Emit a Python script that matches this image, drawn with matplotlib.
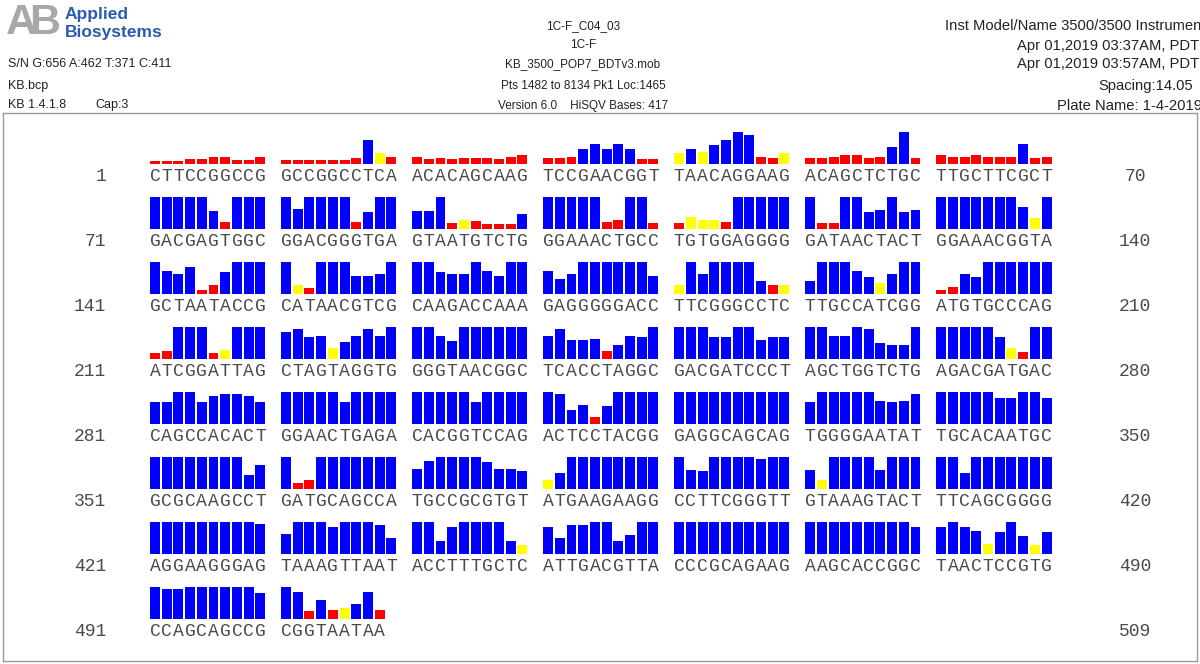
import matplotlib
matplotlib.use("Agg")
import matplotlib.pyplot as plt
from matplotlib.lines import Line2D

W, H = 1200, 664

# base numbers shown at the left and right end of each line
row_starts = [1, 71, 141, 211, 281, 351, 421, 491]
row_ends = [70, 140, 210, 280, 350, 420, 490, 509]

# called bases, 10 per block
bases = [
    "CTTCCGGCCG GCCGGCCTCA ACACAGCAAG TCCGAACGGT TAACAGGAAG ACAGCTCTGC TTGCTTCGCT",
    "GACGAGTGGC GGACGGGTGA GTAATGTCTG GGAAACTGCC TGTGGAGGGG GATAACTACT GGAAACGGTA",
    "GCTAATACCG CATAACGTCG CAAGACCAAA GAGGGGGACC TTCGGGCCTC TTGCCATCGG ATGTGCCCAG",
    "ATCGGATTAG CTAGTAGGTG GGGTAACGGC TCACCTAGGC GACGATCCCT AGCTGGTCTG AGACGATGAC",
    "CAGCCACACT GGAACTGAGA CACGGTCCAG ACTCCTACGG GAGGCAGCAG TGGGGAATAT TGCACAATGC",
    "GCGCAAGCCT GATGCAGCCA TGCCGCGTGT ATGAAGAAGG CCTTCGGGTT GTAAAGTACT TTCAGCGGGG",
    "AGGAAGGGAG TAAAGTTAAT ACCTTTGCTC ATTGACGTTA CCCGCAGAAG AAGCACCGGC TAACTCCGTG",
    "CCAGCAGCCG CGGTAATAA",
]

# quality values per base (bars are capped at QV 50)
qv_1_70 = [5, 5, 5, 8, 8, 11, 11, 6, 6, 11,
           6, 6, 6, 6, 6, 6, 9, 38, 18, 12,
           12, 8, 10, 8, 10, 10, 10, 8, 12, 14,
           9, 10, 12, 23, 31, 23, 31, 23, 8, 8,
           18, 23, 19, 30, 38, 50, 45, 12, 10, 18,
           10, 10, 12, 14, 14, 10, 12, 27, 50, 10,
           14, 12, 12, 14, 12, 11, 11, 31, 9, 12]
qv_71_140 = [50, 50, 50, 50, 50, 28, 12, 50, 50, 50,
             50, 31, 50, 50, 50, 50, 11, 27, 50, 50,
             28, 28, 50, 9, 15, 13, 8, 8, 8, 23,
             50, 50, 50, 50, 50, 12, 14, 50, 50, 9,
             9, 19, 15, 15, 12, 50, 50, 50, 50, 50,
             50, 9, 9, 50, 50, 27, 30, 50, 27, 30,
             50, 50, 50, 50, 50, 50, 50, 34, 17, 50]
qv_141_210 = [50, 36, 31, 42, 7, 14, 34, 50, 50, 50,
              50, 15, 9, 50, 50, 50, 28, 28, 31, 50,
              50, 50, 34, 31, 31, 50, 36, 28, 50, 50,
              36, 23, 31, 50, 50, 50, 50, 50, 50, 28,
              15, 50, 31, 50, 50, 50, 50, 20, 14, 15,
              20, 50, 50, 50, 36, 27, 17, 31, 50, 50,
              6, 12, 31, 27, 50, 50, 50, 50, 50, 50]
qv_211_280 = [9, 13, 50, 50, 50, 9, 15, 50, 50, 50,
              42, 47, 34, 36, 17, 27, 36, 47, 36, 50,
              50, 50, 36, 28, 50, 50, 50, 50, 50, 50,
              36, 47, 30, 30, 31, 13, 22, 36, 34, 50,
              50, 50, 50, 34, 34, 50, 50, 30, 34, 34,
              50, 50, 36, 36, 50, 47, 25, 22, 22, 50,
              50, 50, 50, 50, 50, 34, 17, 12, 50, 50]
qv_281_350 = [34, 34, 50, 50, 34, 44, 47, 47, 44, 34,
              50, 50, 50, 50, 50, 34, 50, 50, 50, 50,
              50, 50, 50, 50, 50, 34, 50, 50, 50, 50,
              50, 47, 22, 30, 12, 28, 50, 50, 50, 50,
              50, 50, 50, 50, 50, 50, 50, 50, 50, 50,
              34, 50, 50, 50, 50, 50, 36, 34, 36, 47,
              50, 50, 50, 50, 50, 40, 40, 50, 50, 40]
qv_351_420 = [50, 50, 50, 50, 50, 50, 50, 50, 22, 37,
              50, 9, 14, 50, 50, 50, 50, 50, 50, 50,
              31, 44, 50, 50, 50, 50, 42, 31, 31, 28,
              15, 25, 50, 50, 50, 50, 50, 50, 50, 50,
              50, 30, 28, 50, 50, 50, 50, 47, 50, 50,
              30, 15, 50, 50, 50, 50, 30, 50, 50, 50,
              50, 50, 25, 50, 50, 50, 50, 50, 50, 50]
qv_421_490 = [50, 50, 50, 50, 50, 50, 50, 50, 50, 47,
              31, 50, 50, 50, 42, 50, 50, 50, 45, 25,
              50, 50, 20, 42, 50, 50, 50, 50, 21, 15,
              42, 25, 45, 45, 50, 50, 20, 30, 50, 50,
              50, 50, 50, 50, 50, 50, 50, 50, 50, 50,
              50, 50, 50, 50, 50, 50, 50, 50, 50, 42,
              42, 50, 42, 36, 16, 34, 50, 28, 15, 34]
qv_491_509 = [50, 47, 47, 50, 50, 50, 50, 50, 50, 40,
              50, 42, 13, 29, 14, 18, 23, 42, 14]

qv_rows = [qv_1_70, qv_71_140, qv_141_210, qv_211_280,
           qv_281_350, qv_351_420, qv_421_490, qv_491_509]

QV_MAX = 50
GROUP_GAP = 1.2      # extra space between blocks of ten, in base widths
PITCH = 11.7         # pixels per base
ROW_STEP = 65        # pixels between lines
X_LO, X_HI = -1, 77.5


def qv_color(q):
    if q < 15:
        return "#ff0000"
    if q < 20:
        return "#ffff00"
    return "#0000ff"


def fx(px):
    return px / W


def fy(py):
    return 1 - py / H


fig = plt.figure(figsize=(W / 100, H / 100), dpi=100)
fig.patch.set_facecolor("white")

txt = dict(family="Liberation Sans", fontsize=9, color="#222222", va="center")
mono = dict(family="Liberation Mono", fontsize=13, color="#4a4a4a", va="center")

# logo
fig.text(fx(6), fy(23), "A", family="Liberation Sans", fontsize=31, fontweight="bold",
         color="#a8a8a8", va="center")
fig.text(fx(29), fy(23), "B", family="Liberation Sans", fontsize=31, fontweight="bold",
         color="#a8a8a8", va="center")
fig.add_artist(Line2D([fx(22), fx(37)], [fy(41), fy(5)], color="white", lw=2.2))
fig.text(fx(65), fy(14), "Applied", family="Liberation Sans", fontsize=12.5,
         fontweight="bold", color="#2a5cae", va="center")
fig.text(fx(65), fy(32), "Biosystems", family="Liberation Sans", fontsize=12.5,
         fontweight="bold", color="#2a5cae", va="center")

# header, left
fig.text(fx(8), fy(64), "S/N G:656 A:462 T:371 C:411", **txt)
fig.text(fx(8), fy(86), "KB.bcp", **txt)
fig.text(fx(8), fy(105), "KB 1.4.1.8", **txt)
fig.text(fx(95), fy(105), "Cap:3", **txt)

# header, centre
ctr = dict(txt, fontsize=8.5)
for y, s in [(26, "1C-F_C04_03"), (45, "1C-F"), (64, "KB_3500_POP7_BDTv3.mob"),
             (86, "Pts 1482 to 8134 Pk1 Loc:1465"), (106, "Version 6.0    HiSQV Bases: 417")]:
    fig.text(fx(583), fy(y), s, ha="center", **ctr)

# header, right (runs past the page edge)
rgt = dict(txt, fontsize=10.6)
for x, y, s in [(945, 26, "Inst Model/Name 3500/3500 Instrument"),
                (1017, 46, "Apr 01,2019 03:37AM, PDT"),
                (1017, 64, "Apr 01,2019 03:57AM, PDT"),
                (1098, 86, "Spacing:14.05"),
                (1057, 106, "Plate Name: 1-4-2019")]:
    fig.text(fx(x), fy(y), s, ha="left", **rgt)

# frame around the base calls
frame = dict(color="#9a9a9a", lw=1)
fig.add_artist(Line2D([fx(3), fx(1197)], [fy(113), fy(113)], **frame))
fig.add_artist(Line2D([fx(3), fx(3)], [fy(113), fy(661)], **frame))
fig.add_artist(Line2D([fx(3), fx(1197)], [fy(661), fy(661)], **frame))
fig.add_artist(Line2D([fx(1197), fx(1197)], [fy(113), fy(661)], **frame))

for r, (seq, qv) in enumerate(zip(bases, qv_rows)):
    letters = seq.replace(" ", "")
    x = [i + GROUP_GAP * (i // 10) for i in range(len(letters))]
    bottom = 164.3 + ROW_STEP * r
    ax = fig.add_axes([fx(155 + PITCH * X_LO), (H - bottom) / H,
                       (X_HI - X_LO) * PITCH / W, 32.5 / H])
    ax.set_xlim(X_LO, X_HI)
    ax.set_ylim(0, QV_MAX)
    ax.bar(x, [min(q, QV_MAX) for q in qv], width=0.85,
           color=[qv_color(q) for q in qv], linewidth=0)
    ax.axis("off")
    for xi, b in zip(x, letters):
        ax.annotate(b, (xi, 0), xycoords=("data", "axes fraction"),
                    xytext=(0, -12.5), textcoords="offset pixels", ha="center", **mono)
    fig.text(fx(106), fy(bottom + 12.5), str(row_starts[r]), ha="right", **mono)
    fig.text(fx(1135), fy(bottom + 12.5), str(row_ends[r]), ha="center", **mono)

fig.savefig("out.png", dpi=100)
